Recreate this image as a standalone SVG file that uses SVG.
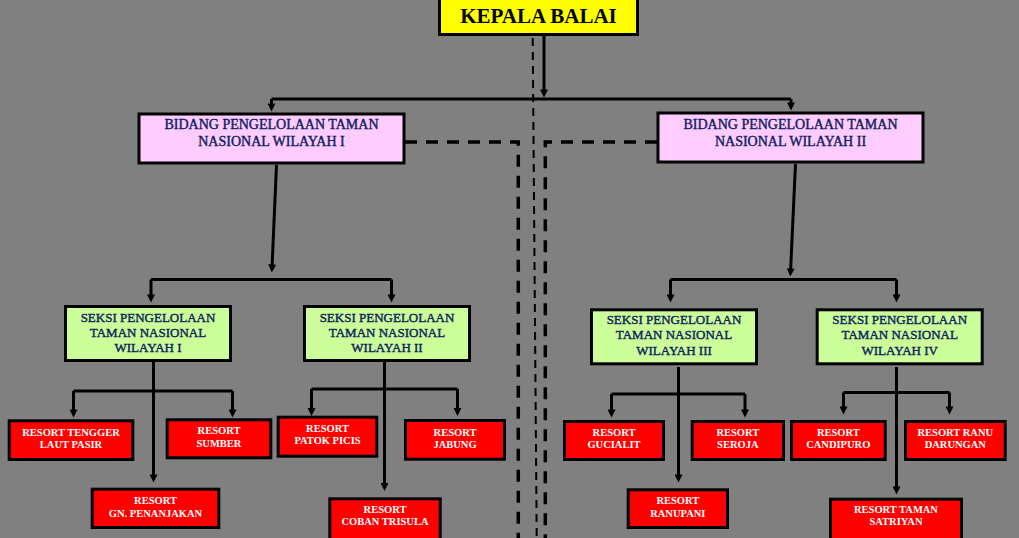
<svg xmlns="http://www.w3.org/2000/svg" width="1019" height="538" viewBox="0 0 1019 538">
<style>
.box{stroke:#000;stroke-width:3}
.k{fill:#FFFF00}
.b{fill:#FFCCFF}
.s{fill:#CCFF99}
.r{fill:#FF0000}
text{font-family:"Liberation Serif","Times New Roman",serif;text-anchor:middle}
.tk{font-size:21px;font-weight:bold;fill:#000}
.tb{font-size:14px;fill:#0E1E5E;stroke:#0E1E5E;stroke-width:0.4}
.ts{font-size:13px;fill:#0E1E5E;stroke:#0E1E5E;stroke-width:0.4}
.tr{font-size:10.5px;font-weight:bold;fill:#fff}
.ln{fill:none;stroke:#000;stroke-width:3}
.ar{marker-end:url(#ah)}
.dsh{fill:none;stroke:#000;stroke-width:3.5;stroke-dasharray:12 9}
.dc{fill:none;stroke:#000;stroke-width:2;stroke-dasharray:8 6}
</style>
<defs>
<marker id="ah" viewBox="0 0 10 10" refX="4.4" refY="5" markerWidth="9" markerHeight="8" markerUnits="userSpaceOnUse" orient="auto">
<path d="M0,0 L10,5 L0,10 z" fill="#000"/>
</marker>
</defs>
<rect width="1019" height="538" fill="#808080"/>
<g id="connectors">
<path class="dc" d="M532.7,38 L536.7,538"/>
<path class="dsh" d="M405,142 H518.3 V538"/>
<path class="dsh" d="M657,142 H545.3 V538"/>
<path class="ln ar" d="M544,36 V93"/>
<path class="ln" d="M271.5,99 H791"/>
<path class="ln ar" d="M271.5,99 V107"/>
<path class="ln ar" d="M791,99 V106"/>
<path class="ln ar" d="M276.5,165 L272,268"/>
<path class="ln" d="M151,279.5 H391.5"/>
<path class="ln ar" d="M151,279.5 V298"/>
<path class="ln ar" d="M391.5,279.5 V298"/>
<path class="ln ar" d="M153.5,362 V478"/>
<path class="ln" d="M73.5,391 H232.5"/>
<path class="ln ar" d="M73.5,391 V413"/>
<path class="ln ar" d="M232.5,391 V413"/>
<path class="ln ar" d="M384.5,362 V486.5"/>
<path class="ln" d="M311.5,389 H457.5"/>
<path class="ln ar" d="M311.5,389 V411.5"/>
<path class="ln ar" d="M457.5,389 V411.5"/>
<path class="ln ar" d="M795.5,164 L790.5,272"/>
<path class="ln" d="M670.5,279.5 H896.5"/>
<path class="ln ar" d="M670.5,279.5 V298"/>
<path class="ln ar" d="M896.5,279.5 V298"/>
<path class="ln ar" d="M678.5,367 V478"/>
<path class="ln" d="M611.5,394 H745"/>
<path class="ln ar" d="M611.5,394 V413"/>
<path class="ln ar" d="M745,394 V413"/>
<path class="ln ar" d="M896.5,367 V490"/>
<path class="ln" d="M843.5,392.5 H949.5"/>
<path class="ln ar" d="M843.5,392.5 V410"/>
<path class="ln ar" d="M949.5,392.5 V410"/>
</g>
<g id="kepala-balai">
<rect class="box k" x="439.5" y="-2" width="198" height="36.5"/>
<text class="tk" x="538.5" y="23">KEPALA BALAI</text>
</g>
<g id="bidang-1">
<rect class="box b" x="139" y="114" width="265" height="49"/>
<text class="tb" x="271.5" y="129.3">BIDANG PENGELOLAAN TAMAN</text>
<text class="tb" x="271.5" y="146">NASIONAL WILAYAH I</text>
</g>
<g id="bidang-2">
<rect class="box b" x="658" y="113" width="265" height="49"/>
<text class="tb" x="790.5" y="129.3">BIDANG PENGELOLAAN TAMAN</text>
<text class="tb" x="790.5" y="146">NASIONAL WILAYAH II</text>
</g>
<g id="seksi-1">
<rect class="box s" x="65.5" y="306.5" width="165" height="54"/>
<text class="ts" x="148" y="321.7">SEKSI PENGELOLAAN</text>
<text class="ts" x="148" y="336.7">TAMAN NASIONAL</text>
<text class="ts" x="148" y="352.3">WILAYAH I</text>
</g>
<g id="seksi-2">
<rect class="box s" x="304.5" y="306.5" width="165" height="54"/>
<text class="ts" x="387" y="321.7">SEKSI PENGELOLAAN</text>
<text class="ts" x="387" y="336.7">TAMAN NASIONAL</text>
<text class="ts" x="387" y="352.3">WILAYAH II</text>
</g>
<g id="seksi-3">
<rect class="box s" x="591.5" y="309.8" width="165" height="54"/>
<text class="ts" x="674" y="324.3">SEKSI PENGELOLAAN</text>
<text class="ts" x="674" y="339.3">TAMAN NASIONAL</text>
<text class="ts" x="674" y="355">WILAYAH III</text>
</g>
<g id="seksi-4">
<rect class="box s" x="817.2" y="309.8" width="165" height="54"/>
<text class="ts" x="899.7" y="324.3">SEKSI PENGELOLAAN</text>
<text class="ts" x="899.7" y="339.3">TAMAN NASIONAL</text>
<text class="ts" x="899.7" y="355">WILAYAH IV</text>
</g>
<g id="resort-tengger">
<rect class="box r" x="9.2" y="420.8" width="123.6" height="38.7"/>
<text class="tr" x="71" y="435.7">RESORT TENGGER</text>
<text class="tr" x="71" y="448.3">LAUT PASIR</text>
</g>
<g id="resort-sumber">
<rect class="box r" x="167.2" y="419.8" width="103.6" height="38"/>
<text class="tr" x="219" y="434">RESORT</text>
<text class="tr" x="219" y="446.7">SUMBER</text>
</g>
<g id="resort-penanjakan">
<rect class="box r" x="92.2" y="489.2" width="126.6" height="38.3"/>
<text class="tr" x="155.5" y="504">RESORT</text>
<text class="tr" x="155.5" y="516.7">GN. PENANJAKAN</text>
</g>
<g id="resort-patok-picis">
<rect class="box r" x="278.2" y="417.2" width="98.6" height="39"/>
<text class="tr" x="327.5" y="431.7">RESORT</text>
<text class="tr" x="327.5" y="444.3">PATOK PICIS</text>
</g>
<g id="resort-jabung">
<rect class="box r" x="405.5" y="420.5" width="99" height="38.7"/>
<text class="tr" x="455" y="435.7">RESORT</text>
<text class="tr" x="455" y="448.3">JABUNG</text>
</g>
<g id="resort-coban-trisula">
<rect class="box r" x="329.8" y="498.8" width="110.4" height="45"/>
<text class="tr" x="385" y="512.7">RESORT</text>
<text class="tr" x="385" y="525.3">COBAN TRISULA</text>
</g>
<g id="resort-gucialit">
<rect class="box r" x="564.5" y="421.5" width="99" height="38"/>
<text class="tr" x="614" y="435.7">RESORT</text>
<text class="tr" x="614" y="448.3">GUCIALIT</text>
</g>
<g id="resort-seroja">
<rect class="box r" x="692.2" y="421.5" width="91.3" height="38"/>
<text class="tr" x="737.8" y="435.7">RESORT</text>
<text class="tr" x="737.8" y="448.3">SEROJA</text>
</g>
<g id="resort-ranupani">
<rect class="box r" x="628.2" y="489.8" width="99.3" height="37.7"/>
<text class="tr" x="677.8" y="504">RESORT</text>
<text class="tr" x="677.8" y="516.7">RANUPANI</text>
</g>
<g id="resort-candipuro">
<rect class="box r" x="791.5" y="421.5" width="93.7" height="38"/>
<text class="tr" x="838.3" y="435.7">RESORT</text>
<text class="tr" x="838.3" y="448.3">CANDIPURO</text>
</g>
<g id="resort-ranu-darungan">
<rect class="box r" x="905.5" y="421.5" width="99.7" height="38"/>
<text class="tr" x="955.3" y="435.7">RESORT RANU</text>
<text class="tr" x="955.3" y="448.3">DARUNGAN</text>
</g>
<g id="resort-taman-satriyan">
<rect class="box r" x="830.5" y="499.2" width="131" height="45"/>
<text class="tr" x="896" y="512.7">RESORT TAMAN</text>
<text class="tr" x="896" y="525.3">SATRIYAN</text>
</g>
</svg>
